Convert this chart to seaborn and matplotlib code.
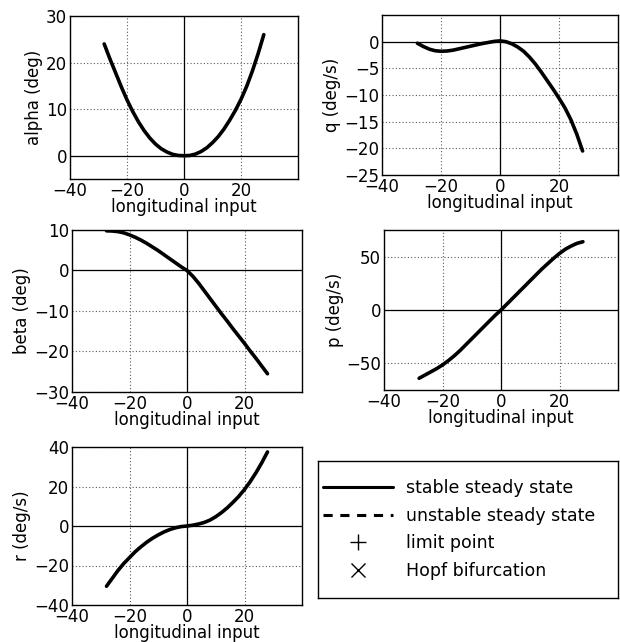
import numpy as np
import pandas as pd
import seaborn as sns
import matplotlib.pyplot as plt
from matplotlib.lines import Line2D

# longitudinal input (x) shared by all panels
x_input = [-28, -26, -24, -22, -20, -18, -16, -14, -12, -10, -8, -6, -4, -2, 0,
           2, 4, 6, 8, 10, 12, 14, 16, 18, 20, 22, 24, 26, 28]

alpha_deg = [24, 20.8, 17.8, 14.8, 12, 9.5, 7.3, 5.4, 3.8, 2.5, 1.5, 0.8, 0.3, 0.05, 0,
             0.05, 0.35, 0.9, 1.7, 2.8, 4.1, 5.7, 7.6, 9.7, 12.1, 14.9, 18.2, 21.9, 26]
q_degs = [-0.3, -0.9, -1.4, -1.7, -1.8, -1.75, -1.6, -1.35, -1.1, -0.85, -0.6, -0.35, -0.15, 0.05, 0.15,
          0, -0.4, -1.0, -1.8, -2.9, -4.2, -5.7, -7.3, -8.9, -10.6, -12.4, -14.6, -17.3, -20.5]
beta_deg = [9.8, 9.75, 9.6, 9.3, 8.8, 8.2, 7.5, 6.7, 5.8, 4.9, 3.9, 2.9, 1.9, 0.9, 0,
            -1.4, -3.1, -5.0, -6.9, -8.8, -10.7, -12.5, -14.4, -16.2, -18, -19.9, -21.7, -23.6, -25.5]
p_degs = [-64, -61, -58, -55, -51.5, -47.5, -43, -38, -32.5, -27, -21.5, -16, -10.5, -5, 0,
          5.5, 11, 16.5, 22, 27.5, 33, 38.5, 43.5, 48.5, 53, 57, 60, 62.5, 64]
r_degs = [-30.5, -26.5, -22.5, -19, -16, -13, -10.5, -8.2, -6.2, -4.5, -3.0, -1.8, -0.9, -0.3, 0,
          0.4, 1, 1.8, 3, 4.7, 6.8, 9.2, 12, 15, 18.5, 22.5, 27, 32, 37.5]

legend_labels = ["stable steady state", "unstable steady state",
                 "limit point", "Hopf bifurcation"]

sns.set_style("white")
plt.rcParams['font.family'] = ['DejaVu Sans']
plt.rcParams['text.color'] = 'black'
plt.rcParams['axes.labelcolor'] = 'black'

fig = plt.figure(figsize=(6.2, 6.42), dpi=100)
W, H = 620, 642

def px_axes(l, t, r, b):
    return fig.add_axes([l / W, 1 - b / H, (r - l) / W, (b - t) / H])

panels = [
    (px_axes(70, 16, 298, 179), alpha_deg, "alpha (deg)", (-5, 30), [0, 10, 20, 30]),
    (px_axes(382, 15, 618, 175), q_degs, "q (deg/s)", (-25, 5), [-25, -20, -15, -10, -5, 0]),
    (px_axes(72, 230, 302, 392), beta_deg, "beta (deg)", (-30, 10), [-30, -20, -10, 0, 10]),
    (px_axes(384, 230, 618, 390), p_degs, "p (deg/s)", (-75, 75), [-50, 0, 50]),
    (px_axes(72, 447, 302, 605), r_degs, "r (deg/s)", (-40, 40), [-40, -20, 0, 20, 40]),
]

FS = 12

for ax, vals, ylab, ylim, yticks in panels:
    df = pd.DataFrame({"x": x_input, "y": vals})
    ax.grid(True, linestyle=(0, (1, 2)), color="0.35", linewidth=0.8)
    ax.axhline(0, color="black", linewidth=0.9)
    ax.axvline(0, color="black", linewidth=0.9)
    sns.lineplot(data=df, x="x", y="y", ax=ax, color="black", linewidth=2.6)
    ax.set_xlim(-40, 40)
    ax.set_ylim(*ylim)
    ax.set_xticks([-40, -20, 0, 20])
    ax.set_yticks(yticks)
    ax.set_xlabel("longitudinal input", fontsize=FS, labelpad=-1)
    ax.set_ylabel(ylab, fontsize=FS, labelpad=2)
    ax.tick_params(direction="in", length=3, labelsize=FS, pad=2, colors="black")
    for s in ax.spines.values():
        s.set_color("black")
        s.set_linewidth(1.0)
        s.set_visible(True)

# legend box
lax = px_axes(318, 461, 618, 598)
lax.set_xticks([])
lax.set_yticks([])
for s in lax.spines.values():
    s.set_color("black")
    s.set_linewidth(1.0)
handles = [
    Line2D([], [], color="black", linewidth=2.2),
    Line2D([], [], color="black", linewidth=2.2, linestyle=(0, (3, 2.5))),
    Line2D([], [], color="black", marker="+", linestyle="none", markersize=11),
    Line2D([], [], color="black", marker="x", linestyle="none", markersize=10),
]
lax.legend(handles, legend_labels, loc="center left", bbox_to_anchor=(-0.035, 0.5),
           frameon=False, fontsize=12.5, handlelength=4.0, handletextpad=0.8,
           labelspacing=0.55)

fig.savefig("out.png", dpi=100)
